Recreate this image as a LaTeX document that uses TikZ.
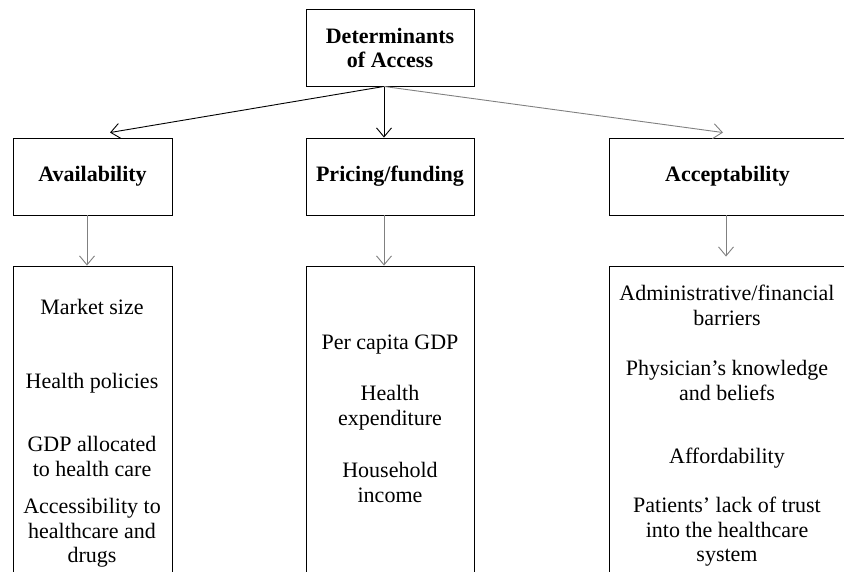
\documentclass[tikz,border=0pt]{standalone}
\usepackage{fontspec}
\setmainfont{Liberation Serif}
\usetikzlibrary{arrows.meta}

\begin{document}
\begin{tikzpicture}[x=1pt, y=-1pt,
		box/.style={draw, line width=0.9pt, inner sep=0pt, minimum height=77pt, align=center, font=\bfseries\fontsize{22}{24}\selectfont},
		listbox/.style={draw, line width=0.9pt, inner sep=0pt, minimum height=320pt},
		item/.style={inner sep=0pt, align=center, font=\fontsize{22}{24.5}\selectfont},
		arr/.style={line width=0.9pt, -{Straight Barb[length=9pt, width=15pt]}},
		garr/.style={arr, gray}]
			\useasboundingbox (0,0) rectangle (844,571);
			\clip (0,0) rectangle (844,571);

			% boxes
			\node[box, minimum width=168pt] (det) at (390,47.5) {Determinants\\of Access};
			\node[box, minimum width=159pt] (avail) at (92.5,176.5) {Availability};
			\node[box, minimum width=168pt] (price) at (390,176.5) {Pricing/funding};
			\node[box, minimum width=237pt] (accept) at (727.5,176.5) {Acceptability};

			\node[listbox, minimum width=159pt] (availlist) at (92.5,426) {};
			\node[listbox, minimum width=168pt] (pricelist) at (390,426) {};
			\node[listbox, minimum width=237pt] (acceptlist) at (727.5,426) {};

			% arrows
			\coordinate (fork) at ([xshift=-6pt]det.south);
			\draw[arr] (fork) -- ([xshift=17.5pt, yshift=5pt]avail.north);
			\draw[arr] (fork) -- ([xshift=-6pt]price.north);
			\draw[garr] (fork) -- ([xshift=-4.5pt, yshift=5pt]accept.north);

			\draw[garr] ([xshift=-5.5pt]avail.south) -- ([xshift=-5.5pt]availlist.north);
			\draw[garr] ([xshift=-6pt]price.south) -- ([xshift=-6pt]pricelist.north);
			\draw[garr] ([xshift=-1.5pt]accept.south) -- ([xshift=-1.5pt, yshift=9pt]acceptlist.north);

			% items
			\node[item] (size) at (92,307) {Market size};
			\node[item] (policy) at (92,383) {Health policies};
			\node[item] (gdpshare) at (92,456.5) {GDP allocated\\to health care};
			\node[item] (reach) at (92,533) {Accessibility to\\healthcare and\\drugs};

			\node[item] (gdp) at (390,345) {Per capita GDP};
			\node[item] (spend) at (390,407.5) {Health\\expenditure};
			\node[item] (income) at (390,482.5) {Household\\income};

			\node[item] (admin) at (727,305.5) {Administrative/financial\\barriers};
			\node[item] (belief) at (727,380.5) {Physician’s knowledge\\and beliefs};
			\node[item] (afford) at (727,458) {Affordability};
			\node[item] (trust) at (727,532) {Patients’ lack of trust\\into the healthcare\\system};
		\end{tikzpicture}
\end{document}
